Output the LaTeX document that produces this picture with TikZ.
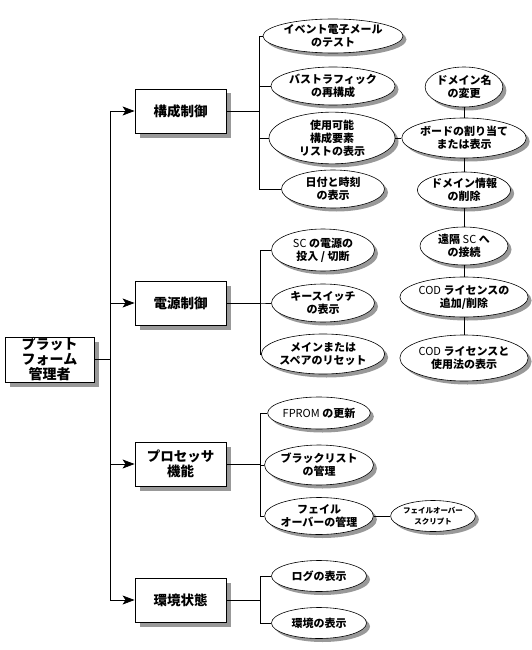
\documentclass[tikz,border=0pt]{standalone}
\usepackage{fontspec}
\setmainfont{Noto Sans CJK JP}
\usetikzlibrary{shapes.geometric, shadows, arrows.meta}

\newcommand{\abbr}[1]{{\mdseries #1}}

\tikzset{%
  % Specifications for style of nodes:
         func/.style = {rectangle, draw = black, line width=0.9pt, fill=white, minimum width=91pt, minimum height=44pt, inner sep=0pt,
                        drop shadow={shadow xshift=4.5pt, shadow yshift=-4.5pt, fill=black!40, opacity=1},
                        font=\fontsize{13.5}{15}\selectfont\bfseries},
         task/.style = {ellipse, draw = black, line width=0.6pt, fill=white, inner sep=0pt,
                        drop shadow={shadow xshift=3.5pt, shadow yshift=-3.5pt, fill=black!40, opacity=1},
                        font=\fontsize{11}{13}\selectfont\bfseries},
         link/.style = {line width=0.7pt},
}

\begin{document}
\begin{tikzpicture}[x=1pt, y=-1pt, align=center]
    \useasboundingbox (0,0) rectangle (531,650);
    % Draw nodes
    \node (admin)    [func, minimum width=89pt, minimum height=45pt, font=\fontsize{14}{15}\selectfont\bfseries] at (49.5,359.5) {プラット\\フォーム\\管理者};

    \node (config)   [func] at (180.5,111) {構成制御};
    \node (power)    [func] at (180.5,303) {電源制御};
    \node (proc)     [func] at (180.5,464) {プロセッサ\\機能};
    \node (envstat)  [func] at (180.5,600) {環境状態};

    \node (event)    [task, minimum width=103pt, minimum height=34pt] at (333,36)  {イベント電子メール\\のテスト};
    \node (bus)      [task, minimum width=103pt, minimum height=38pt] at (333,86)  {バストラフィック\\の再構成};
    \node (avail)    [task, minimum width=126pt, minimum height=42pt] at (332,138) {使用可能\\構成要素\\リストの表示};
    \node (date)     [task, minimum width=103pt, minimum height=38pt] at (333,189) {日付と時刻\\の表示};

    \node (domname)  [task, minimum width=74pt, minimum height=40pt] at (464,87)  {ドメイン名\\の変更};
    \node (board)    [task, minimum width=98pt, minimum height=40pt] at (464,138) {ボードの割り当て\\または表示};
    \node (dominfo)  [task, minimum width=88pt, minimum height=36pt] at (464,190) {ドメイン情報\\の削除};
    \node (remote)   [task, minimum width=88pt, minimum height=38pt] at (464,246) {遠隔 \abbr{SC} へ\\の接続};
    \node (codadd)   [task, minimum width=97pt, minimum height=40pt] at (464,297) {\abbr{COD} ライセンスの\\追加/削除};
    \node (codshow)  [task, minimum width=96pt, minimum height=46pt] at (464,358) {\abbr{COD} ライセンスと\\使用法の表示};

    \node (scpower)  [task, minimum width=103pt, minimum height=42pt] at (323,250) {\abbr{SC} の電源の\\投入 / 切断};
    \node (keysw)    [task, minimum width=103pt, minimum height=38pt] at (323,303) {キースイッチ\\の表示};
    \node (reset)    [task, minimum width=103pt, minimum height=40pt] at (323,354) {メインまたは\\スペアのリセット};

    \node (fprom)    [task, minimum width=95pt, minimum height=32pt] at (319,413) {\abbr{FPROM} の更新};
    \node (black)    [task, minimum width=95pt, minimum height=40pt] at (319,465) {ブラックリスト\\の管理};
    \node (failmgr)  [task, minimum width=95pt, minimum height=37pt] at (319,516) {フェイル\\オーバーの管理};
    \node (script)   [task, minimum width=60pt, minimum height=31pt, font=\fontsize{7.5}{10.5}\selectfont\bfseries] at (433,516) {フェイルオーバー\\スクリプト};

    \node (log)      [task, minimum width=95pt, minimum height=31pt] at (319,576) {ログの表示};
    \node (env)      [task, minimum width=95pt, minimum height=31pt] at (319,623) {環境の表示};

    \coordinate (trunk) at (110,0);

    % Draw arrows
    \draw[link] (admin.east) -- (admin.east -| trunk);
    \draw[link] (config.west -| trunk) -- (envstat.west -| trunk);
    \foreach \func in {config, power, proc, envstat}
        \draw[link, -{Stealth[length=12pt, width=9pt, inset=3pt]}] (\func.west -| trunk) -- (\func.west);

    \foreach \leaf in {event, bus, avail, date}
        \draw[link] (config.east) -- ++(33,0) |- (\leaf);
    \foreach \leaf in {scpower, keysw, reset}
        \draw[link] (power.east) -- ++(34,0) |- (\leaf);
    \foreach \leaf in {fprom, black, failmgr}
        \draw[link] (proc.east) -- ++(34,0) |- (\leaf);
    \foreach \leaf in {log, env}
        \draw[link] (envstat.east) -- ++(34,0) |- (\leaf);

    \draw[link] (avail) -- (board);
    \draw[link] (failmgr) -- (script);
    \draw[link] (domname) -- (board) -- (dominfo) -- (remote) -- (codadd) -- (codshow);
\end{tikzpicture}
\end{document}
